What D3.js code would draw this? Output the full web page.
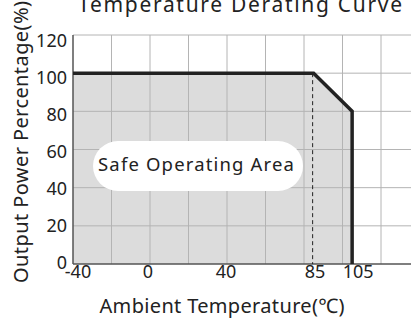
<!DOCTYPE html>
<html>
<head>
<meta charset="utf-8">
<script src="https://cdn.jsdelivr.net/npm/d3@7"></script>
<style>
body { margin: 0; background: #fff; }
svg { display: block; font-family: "Noto Sans", sans-serif; }
</style>
</head>
<body>
<div id="chart"></div>
<script>
var width = 411, height = 320;

// derating curve: temperature (C) vs output power (%)
var curveTemp = [-40, 85, 105, 105];
var curvePower = [100, 100, 80, 0];
var xTicks = [-40, 0, 40, 85, 105];
var yTicks = [0, 20, 40, 60, 80, 100, 120];
var xGrid = [-40, -20, 0, 20, 40, 60, 80, 100, 120, 140];
var dashTemp = 85;

var title = "Temperature Derating Curve";
var xTitle = "Ambient Temperature(\u2103)";
var yTitle = "Output Power Percentage(%)";
var areaLabel = "Safe Operating Area";

var curve = curveTemp.map(function(t, i) { return [t, curvePower[i]]; });

var x = d3.scaleLinear().domain([-40, 140]).range([73, 419.5]);
var y = d3.scaleLinear().domain([0, 120]).range([264, 35]);
// tick labels sit a little tighter than the grid in the original
var yLab = d3.scaleLinear().domain([0, 120]).range([262.5, 40]);
var xShift = { "-40": 5, "0": -2, "40": -1, "85": 1.5, "105": 6 };

var svg = d3.select("#chart").append("svg")
    .attr("width", width)
    .attr("height", height);

var line = d3.line().x(function(d){return x(d[0]);}).y(function(d){return y(d[1]);});

// shaded safe area
svg.append("path")
    .attr("d", line([[-40, 0]].concat(curve)) + "Z")
    .attr("fill", "#dcdcdc");

// grid
svg.append("g").selectAll("line")
    .data(xGrid.slice(1))
    .enter().append("line")
    .attr("x1", function(d){return x(d);})
    .attr("x2", function(d){return x(d);})
    .attr("y1", y(120))
    .attr("y2", y(0))
    .attr("stroke", "#b4b4b4")
    .attr("stroke-width", 1);

svg.append("g").selectAll("line")
    .data(yTicks.slice(1))
    .enter().append("line")
    .attr("x1", x(-40))
    .attr("x2", width)
    .attr("y1", function(d){return y(d);})
    .attr("y2", function(d){return y(d);})
    .attr("stroke", "#b4b4b4")
    .attr("stroke-width", 1);

// axes lines
svg.append("line")
    .attr("x1", x(-40)).attr("x2", x(-40))
    .attr("y1", y(120)).attr("y2", y(0))
    .attr("stroke", "#555").attr("stroke-width", 1.5);
svg.append("line")
    .attr("x1", x(-40)).attr("x2", width)
    .attr("y1", y(0)).attr("y2", y(0))
    .attr("stroke", "#555").attr("stroke-width", 1.5);

// dashed line at 85
svg.append("line")
    .attr("x1", x(dashTemp) - 1).attr("x2", x(dashTemp) - 1)
    .attr("y1", y(100)).attr("y2", y(0))
    .attr("stroke", "#222")
    .attr("stroke-width", 1)
    .attr("stroke-dasharray", "4,3");

// curve
svg.append("path")
    .attr("d", line(curve))
    .attr("fill", "none")
    .attr("stroke", "#222")
    .attr("stroke-width", 3.5);

// area label
svg.append("rect")
    .attr("x", 93).attr("y", 141)
    .attr("width", 210).attr("height", 50)
    .attr("rx", 25).attr("ry", 25)
    .attr("fill", "#fff");
svg.append("text")
    .attr("x", 196).attr("y", 171)
    .attr("text-anchor", "middle")
    .attr("font-size", 18.5)
    .attr("textLength", 196)
    .attr("lengthAdjust", "spacing")
    .attr("fill", "#222")
    .text(areaLabel);

// tick labels
svg.append("g").selectAll("text")
    .data(yTicks)
    .enter().append("text")
    .attr("x", 67)
    .attr("y", function(d){return yLab(d) + 6.5;})
    .attr("text-anchor", "end")
    .attr("font-size", 18)
    .attr("fill", "#222")
    .text(function(d){return d;});

svg.append("g").selectAll("text")
    .data(xTicks)
    .enter().append("text")
    .attr("x", function(d){return x(d) + xShift[d];})
    .attr("y", 278)
    .attr("text-anchor", "middle")
    .attr("font-size", 18)
    .attr("fill", "#222")
    .text(function(d){return d;});

// titles
svg.append("text")
    .attr("x", 222).attr("y", 313)
    .attr("text-anchor", "middle")
    .attr("font-size", 20)
    .attr("textLength", 245)
    .attr("lengthAdjust", "spacing")
    .attr("fill", "#222")
    .text(xTitle);

svg.append("text")
    .attr("transform", "translate(28,142) rotate(-90)")
    .attr("text-anchor", "middle")
    .attr("font-size", 20)
    .attr("textLength", 282)
    .attr("lengthAdjust", "spacing")
    .attr("fill", "#222")
    .text(yTitle);

svg.append("text")
    .attr("x", 240).attr("y", 12)
    .attr("text-anchor", "middle")
    .attr("font-size", 21)
    .attr("textLength", 324)
    .attr("lengthAdjust", "spacing")
    .attr("fill", "#222")
    .text(title);
</script>
</body>
</html>
